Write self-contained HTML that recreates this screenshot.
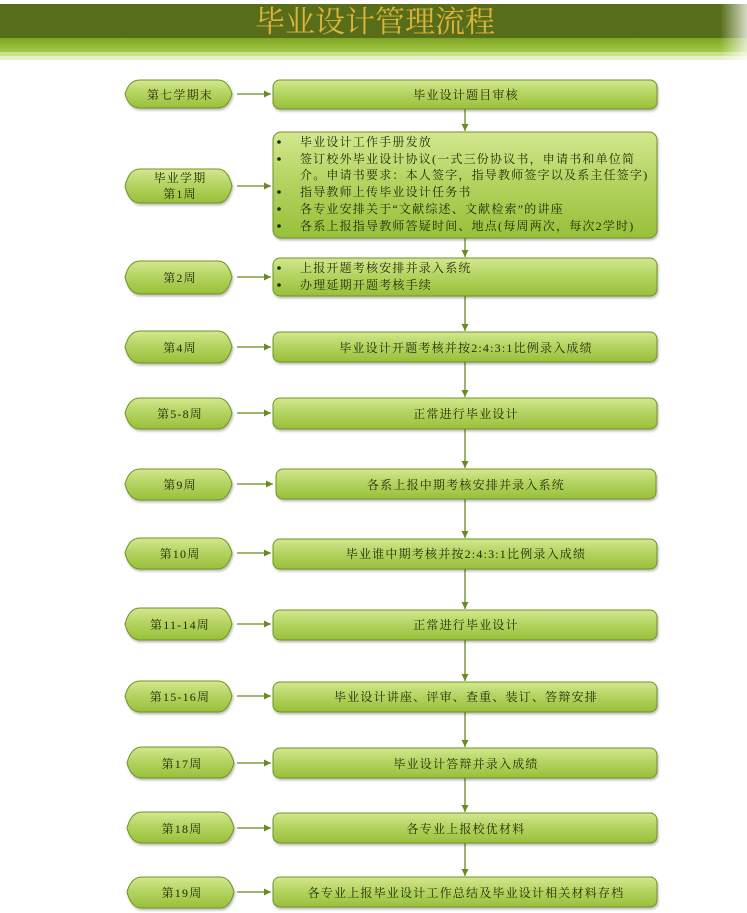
<!DOCTYPE html>
<html><head><meta charset="utf-8"><style>
html,body{margin:0;padding:0;background:#fff;}
svg{display:block;}
text{font-family:"Liberation Serif","Noto Serif CJK SC","Noto Sans CJK SC",serif;fill:#1e2a08;letter-spacing:1.2px;}
</style></head><body>
<svg width="747" height="913" viewBox="0 0 747 913" xmlns="http://www.w3.org/2000/svg">
<defs>
<linearGradient id="g" x1="0" y1="0" x2="0" y2="1">
<stop offset="0" stop-color="#d3e88f"/><stop offset="0.45" stop-color="#b5d462"/><stop offset="1" stop-color="#98c03a"/>
</linearGradient>
<linearGradient id="band" x1="0" y1="0" x2="0" y2="1">
<stop offset="0" stop-color="#7ea523"/><stop offset="1" stop-color="#a3c846"/>
</linearGradient>
<linearGradient id="fade" x1="0" y1="0" x2="1" y2="0">
<stop offset="0" stop-color="#fff" stop-opacity="0"/><stop offset="1" stop-color="#fff" stop-opacity="0.75"/>
</linearGradient>
<marker id="a" markerWidth="8" markerHeight="8" refX="7" refY="4" orient="auto" markerUnits="userSpaceOnUse">
<path d="M0,0.5 L7,4 L0,7.5 Z" fill="#6b8a22"/>
</marker>
<filter id="sh" x="-5%" y="-20%" width="110%" height="150%"><feDropShadow dx="1" dy="2" stdDeviation="1" flood-color="#000" flood-opacity="0.25"/></filter>
</defs>
<rect x="0" y="4" width="747" height="34" fill="#586d19"/>
<rect x="0" y="38" width="747" height="14" fill="url(#band)"/>
<rect x="0" y="52" width="747" height="4" fill="#c8df8c"/>
<rect x="0" y="56" width="747" height="4" fill="#e6f1c6"/>
<rect x="720" y="4" width="27" height="56" fill="url(#fade)"/>
<text x="375" y="32" text-anchor="middle" font-size="30" style="fill:#dcb43a;letter-spacing:0">毕业设计管理流程</text>

<g stroke="#6b8a22" stroke-width="1.3" fill="none">
<line x1="465" y1="109" x2="465" y2="131" marker-end="url(#a)"/>
<line x1="465" y1="238" x2="465" y2="257" marker-end="url(#a)"/>
<line x1="465" y1="296" x2="465" y2="331" marker-end="url(#a)"/>
<line x1="465" y1="362" x2="465" y2="397" marker-end="url(#a)"/>
<line x1="465" y1="429" x2="465" y2="468" marker-end="url(#a)"/>
<line x1="465" y1="499" x2="465" y2="538" marker-end="url(#a)"/>
<line x1="465" y1="569" x2="465" y2="609" marker-end="url(#a)"/>
<line x1="465" y1="640" x2="465" y2="681" marker-end="url(#a)"/>
<line x1="465" y1="712" x2="465" y2="747" marker-end="url(#a)"/>
<line x1="465" y1="778" x2="465" y2="812" marker-end="url(#a)"/>
<line x1="465" y1="843" x2="465" y2="876" marker-end="url(#a)"/>
<line x1="237" y1="94" x2="271" y2="94" marker-end="url(#a)"/>
<line x1="237" y1="186" x2="271" y2="186" marker-end="url(#a)"/>
<line x1="237" y1="277" x2="271" y2="277" marker-end="url(#a)"/>
<line x1="237" y1="347" x2="271" y2="347" marker-end="url(#a)"/>
<line x1="237" y1="413" x2="271" y2="413" marker-end="url(#a)"/>
<line x1="237" y1="484" x2="273" y2="484" marker-end="url(#a)"/>
<line x1="237" y1="553" x2="271" y2="553" marker-end="url(#a)"/>
<line x1="237" y1="624" x2="271" y2="624" marker-end="url(#a)"/>
<line x1="237" y1="696" x2="271" y2="696" marker-end="url(#a)"/>
<line x1="237" y1="763" x2="271" y2="763" marker-end="url(#a)"/>
<line x1="237" y1="828" x2="271" y2="828" marker-end="url(#a)"/>
<line x1="237" y1="892" x2="271" y2="892" marker-end="url(#a)"/>
</g>

<g fill="url(#g)" stroke="#6f9424" stroke-width="1" stroke-linejoin="round" filter="url(#sh)">
<rect x="273" y="80" width="384" height="29" rx="7"/>
<rect x="273" y="132" width="384" height="106" rx="8"/>
<rect x="273" y="258" width="384" height="38" rx="7"/>
<rect x="273" y="332" width="384" height="30" rx="7"/>
<rect x="273" y="398" width="384" height="31" rx="7"/>
<rect x="276" y="469" width="380" height="30" rx="7"/>
<rect x="273" y="539" width="384" height="30" rx="7"/>
<rect x="273" y="610" width="384" height="30" rx="7"/>
<rect x="273" y="682" width="384" height="30" rx="7"/>
<rect x="273" y="748" width="384" height="30" rx="7"/>
<rect x="273" y="813" width="384" height="30" rx="7"/>
<rect x="273" y="877" width="384" height="30" rx="7"/>
<path d="M140,80 Q129,80 125,94 Q129,108 140,108 L218,108 Q228,108 232,94 Q228,80 218,80 Z"/>
<path d="M140,169 Q129,169 125,186 Q129,203 140,203 L218,203 Q228,203 232,186 Q228,169 218,169 Z"/>
<path d="M140,261 Q129,261 125,277 Q129,294 140,294 L218,294 Q228,294 232,277 Q228,261 218,261 Z"/>
<path d="M140,331 Q129,331 125,347 Q129,363 140,363 L218,363 Q228,363 232,347 Q228,331 218,331 Z"/>
<path d="M140,398 Q129,398 125,413 Q129,429 140,429 L218,429 Q228,429 232,413 Q228,398 218,398 Z"/>
<path d="M140,469 Q129,469 125,484 Q129,500 140,500 L218,500 Q228,500 232,484 Q228,469 218,469 Z"/>
<path d="M140,538 Q129,538 125,553 Q129,569 140,569 L218,569 Q228,569 232,553 Q228,538 218,538 Z"/>
<path d="M140,608 Q129,608 125,624 Q129,640 140,640 L218,640 Q228,640 232,624 Q228,608 218,608 Z"/>
<path d="M140,681 Q129,681 125,696 Q129,712 140,712 L218,712 Q228,712 232,696 Q228,681 218,681 Z"/>
<path d="M142,747 Q131,747 127,763 Q131,778 142,778 L220,778 Q230,778 234,763 Q230,747 220,747 Z"/>
<path d="M142,812 Q131,812 127,828 Q131,843 142,843 L220,843 Q230,843 234,828 Q230,812 220,812 Z"/>
<path d="M142,877 Q131,877 127,892 Q131,908 142,908 L220,908 Q230,908 234,892 Q230,877 220,877 Z"/>
</g>

<g font-size="12" text-anchor="middle">
<text x="180" y="99">第七学期末</text>
<text x="180" y="182">毕业学期</text>
<text x="180" y="198">第1周</text>
<text x="180" y="282">第2周</text>
<text x="180" y="352">第4周</text>
<text x="180" y="418">第5-8周</text>
<text x="180" y="489">第9周</text>
<text x="180" y="558">第10周</text>
<text x="180" y="629">第11-14周</text>
<text x="180" y="701">第15-16周</text>
<text x="182" y="768">第17周</text>
<text x="182" y="833">第18周</text>
<text x="182" y="897">第19周</text>

<text x="466" y="99">毕业设计题目审核</text>
<text x="466" y="352">毕业设计开题考核并按2:4:3:1比例录入成绩</text>
<text x="466" y="418">正常进行毕业设计</text>
<text x="466" y="489">各系上报中期考核安排并录入系统</text>
<text x="466" y="558">毕业谁中期考核并按2:4:3:1比例录入成绩</text>
<text x="466" y="629">正常进行毕业设计</text>
<text x="466" y="701">毕业设计讲座、评审、查重、装订、答辩安排</text>
<text x="466" y="768">毕业设计答辩并录入成绩</text>
<text x="466" y="833">各专业上报校优材料</text>
<text x="466" y="897">各专业上报毕业设计工作总结及毕业设计相关材料存档</text>
</g>

<g font-size="12">
<text x="300" y="146">毕业设计工作手册发放</text>
<text x="300" y="163">签订校外毕业设计协议(一式三份协议书，申请书和单位简</text>
<text x="300" y="179">介。申请书要求：本人签字，指导教师签字以及系主任签字)</text>
<text x="300" y="196">指导教师上传毕业设计任务书</text>
<text x="300" y="213">各专业安排关于“文献综述、文献检索”的讲座</text>
<text x="300" y="230">各系上报指导教师答疑时间、地点(每周两次，每次2学时)</text>
<text x="300" y="272">上报开题考核安排并录入系统</text>
<text x="300" y="289">办理延期开题考核手续</text>
</g>
<g fill="#1e2a08">
<circle cx="279" cy="142" r="1.8"/><circle cx="279" cy="159" r="1.8"/><circle cx="279" cy="192" r="1.8"/>
<circle cx="279" cy="209" r="1.8"/><circle cx="279" cy="226" r="1.8"/>
<circle cx="279" cy="268" r="1.8"/><circle cx="279" cy="285" r="1.8"/>
</g>
</svg>
</body></html>
